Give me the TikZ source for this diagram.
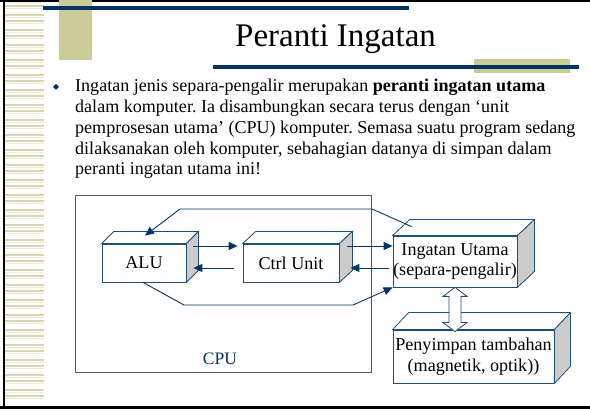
\documentclass[tikz,border=0pt]{standalone}
\usepackage{fontspec}
\setmainfont{Liberation Serif}
\usetikzlibrary{arrows.meta,calc}
\definecolor{navy}{HTML}{003366}
\definecolor{boxnavy}{HTML}{1F4E79}
\definecolor{khaki}{HTML}{CCCC99}
\definecolor{stripeA}{HTML}{D8D6B0}
\definecolor{stripeB}{HTML}{ECEBDA}
\definecolor{sidegray}{HTML}{CCCCCC}
\tikzset{
  boxline/.style={draw=boxnavy, line width=0.8pt},
  front/.style={boxline, fill=white, inner sep=0pt, font=\fontsize{18.1}{20.5}\selectfont, align=center},
  conn/.style={draw=navy, line width=0.9pt, -{Triangle[length=9pt,width=8pt]}},
  plain/.style={draw=navy, line width=0.9pt},
  bodytext/.style={anchor=base west, inner sep=0pt, font=\fontsize{18.05}{20}\selectfont},
}
\newcommand\threedbox[3]{%
  \draw[boxline, fill=white] (#1.north west) -- ++(#2,-#3) -- ($(#1.north east)+(#2,-#3)$) -- (#1.north east) -- cycle;
  \draw[boxline, fill=sidegray] (#1.north east) -- ($(#1.north east)+(#2,-#3)$) -- ($(#1.south east)+(#2,-#3)$) -- (#1.south east) -- cycle;
}
\frenchspacing
\begin{document}
\begin{tikzpicture}[x=1pt,y=-1pt]
\useasboundingbox (0,0) rectangle (590,411);
\fill[white] (0,0) rectangle (590,411);
% left stripes
\foreach \i in {0,...,133}{
  \pgfmathtruncatemacro{\m}{mod(\i*7+3,5)}
  \ifnum\m<2
    \draw[stripeA, line width=1.1pt] (5,{3+3*\i}) -- (44,{3+3*\i});
  \else\ifnum\m<4
    \draw[stripeB, line width=1pt] (5,{3+3*\i}) -- (44,{3+3*\i});
  \fi\fi
}
% frame
\draw[black, line width=2.5pt] (4,0) -- (4,408);
\draw[black, line width=2.5pt] (0,1.2) -- (590,1.2);
\draw[black, line width=2.5pt] (0,407.5) -- (590,407.5);
% decoration
\fill[khaki] (59,0) rectangle (92,60);
\fill[navy] (43,6) rectangle (409,9.8);
\fill[khaki] (474,59) rectangle (570,72.7);
\fill[navy] (213,65) rectangle (579,68.7);
% title
\node[anchor=base west, inner sep=0pt, font=\fontsize{33}{36}\selectfont] (title) at (235,47) {Peranti Ingatan};
% bullet
\fill[navy] (56,84) -- (59,87) -- (56,90) -- (53,87) -- cycle;
\node[bodytext] (l1) at (75,92) {Ingatan jenis separa-pengalir merupakan \textbf{peranti ingatan utama}};
\node[bodytext] (l2) at (75,113) {dalam komputer. Ia disambungkan secara terus dengan ‘unit};
\node[bodytext] (l3) at (75,133.5) {pemprosesan utama’ (CPU) komputer. Semasa suatu program sedang};
\node[bodytext] (l4) at (75,154.5) {dilaksanakan oleh komputer, sebahagian datanya di simpan dalam};
\node[bodytext] (l5) at (75,175) {peranti ingatan utama ini!};
% CPU box
\node[draw=black!65, line width=1pt, minimum width=296pt, minimum height=177pt, inner sep=0pt] (cpu) at (223,284.5) {};
\node[text=navy, font=\fontsize{17.5}{19}\selectfont, inner sep=0pt] (cpulbl) at (220,359) {CPU};
% boxes
\node[front, minimum width=84pt, minimum height=38pt] (alu) at (144,263) {ALU};
\threedbox{alu}{12}{12}
\node[front, minimum width=96pt, minimum height=38pt] (ctrl) at (291,263) {Ctrl Unit};
\threedbox{ctrl}{13}{12}
\node[front, minimum width=124pt, minimum height=51pt] (ing) at (455,261.5) {Ingatan Utama\\(separa-pengalir)};
\threedbox{ing}{17}{16}
\node[front, minimum width=161pt, minimum height=53pt] (pen) at (473.5,356.5) {Penyimpan tambahan\\(magnetik, optik))};
\threedbox{pen}{16}{17}
% connectors
\draw[conn] ([xshift=7pt,yshift=17pt]alu.east) -- ([xshift=-5pt,yshift=17pt]ctrl.west);
\draw[conn] ([xshift=-9pt,yshift=-5pt]ctrl.west) -- ([xshift=7pt,yshift=-5pt]alu.east);
\draw[conn] ([xshift=8pt,yshift=17pt]ctrl.east) -- ([yshift=15.5pt]ing.west);
\draw[conn] ([xshift=-4pt,yshift=-6.5pt]ing.west) -- ([xshift=11pt,yshift=-5pt]ctrl.east);
\coordinate (t1) at (372,209);
\coordinate (t2) at (180,209);
\draw[conn] ([xshift=19pt,yshift=9pt]ing.north west) -- (t1) -- (t2) -- ([xshift=1pt,yshift=8pt]alu.north);
\coordinate (b1) at (184,305);
\coordinate (b2) at (353,305);
\draw[conn] ([xshift=-1pt]alu.south) -- (b1) -- (b2) -- (ing.south west);
% hollow double arrow
\coordinate (da) at (ing.south);
\coordinate (db) at (ing.south |- pen.north);
\draw[boxline, fill=white]
  (da) -- ++(12,9) -- ++(-6,0) -- ($(db)+(6,-7)$) -- ++(6,0) -- ($(db)+(0,2)$)
  -- ($(db)+(-12,-7)$) -- ++(6,0) -- ($(da)+(-6,9)$) -- ++(-6,0) -- cycle;
\end{tikzpicture}
\end{document}
